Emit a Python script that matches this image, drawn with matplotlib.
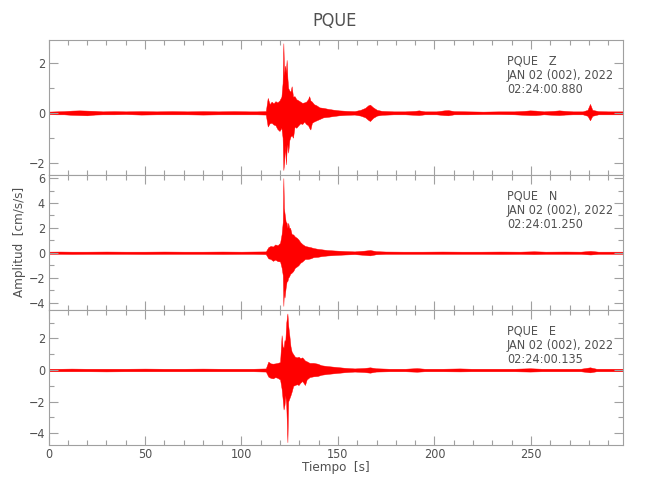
import matplotlib
matplotlib.use("Agg")
import matplotlib.pyplot as plt
from matplotlib.ticker import MultipleLocator

## envelope of each component (time [s], upper peak, lower peak)
t_z = [0, 4, 8, 12, 16, 20, 24, 28, 34, 40, 48, 56, 64, 72, 80, 88, 96, 104, 108, 112.6,
       113.6, 114.6, 115.6, 116.6, 117.6, 118.6, 119.7, 120.7, 121.3, 121.7, 122.1, 122.6,
       123.0, 123.4, 123.8, 124.2, 124.8, 125.4, 126.0, 126.7, 127.5, 128.4, 129.5, 130.5,
       131.5, 132.5, 133.5, 134.5, 135.1, 135.7, 136.5, 137.5, 138.9, 140.4, 142.4, 144.9, 147.4,
       150.5, 154.5, 158.6, 161.6, 164.1, 165.6, 166.6, 168.2, 170.2, 172.7, 178.8, 184.8, 189.9, 191.9, 194.9, 201.0,
       205.0, 207.1, 210.1, 217.2, 225.2, 233.3, 241.4, 246.5, 249.5, 252.5, 256.6, 261.6, 264.6, 267.7, 271.7, 276.8, 279.3,
       280.6, 281.8, 284.9, 289.9, 297.7]
hi_z = [0.05, 0.06, 0.07, 0.09, 0.1, 0.09, 0.08, 0.06, 0.07, 0.06, 0.07, 0.06, 0.07, 0.06,
        0.07, 0.06, 0.07, 0.06, 0.06, 0.07,
        0.60, 0.35, 0.45, 0.38, 0.47, 0.42, 0.50, 0.65, 1.2, 2.8, 1.5, 1.9,
        1.6, 2.13, 1.4, 1.0, 0.9, 0.85, 1.07, 0.65, 0.67, 0.55, 0.5, 0.45,
        0.4, 0.42, 0.45, 0.55, 0.67, 0.5, 0.45, 0.35, 0.3, 0.22, 0.2, 0.16, 0.13,
        0.1, 0.08, 0.07, 0.12, 0.2, 0.3, 0.33, 0.22, 0.12, 0.08, 0.06, 0.06, 0.08, 0.1, 0.06, 0.06,
        0.1, 0.11, 0.07, 0.06, 0.05, 0.06, 0.06, 0.08, 0.1, 0.09, 0.06, 0.08, 0.1, 0.08, 0.06, 0.06, 0.12,
        0.36, 0.12, 0.07, 0.06, 0.06]
lo_z = [-0.05, -0.06, -0.06, -0.08, -0.09, -0.1, -0.07, -0.06, -0.06, -0.05, -0.07, -0.06, -0.06, -0.06,
        -0.07, -0.06, -0.06, -0.06, -0.06, -0.07,
        -0.55, -0.42, -0.40, -0.47, -0.50, -0.65, -0.73, -0.60, -1.0, -2.3, -2.0, -1.3,
        -2.07, -1.5, -1.27, -1.6, -1.1, -0.95, -0.9, -1.0, -0.55, -0.6, -0.5, -0.42,
        -0.45, -0.35, -0.45, -0.5, -0.6, -0.67, -0.4, -0.35, -0.3, -0.25, -0.18, -0.16, -0.13,
        -0.1, -0.08, -0.07, -0.11, -0.18, -0.28, -0.33, -0.2, -0.11, -0.08, -0.06, -0.06, -0.08, -0.09, -0.06, -0.06,
        -0.09, -0.1, -0.06, -0.06, -0.05, -0.05, -0.06, -0.08, -0.09, -0.09, -0.06, -0.08, -0.09, -0.07, -0.06, -0.06, -0.12,
        -0.3, -0.12, -0.06, -0.06, -0.06]

t_n = [0, 6, 12, 20, 30, 40, 50, 60, 70, 80, 90, 100, 106.0, 112.6,
       113.9, 115.1, 116.3, 117.5, 118.7, 120.0, 120.8, 121.4, 121.7, 122.0, 122.3, 122.9,
       123.4, 123.8, 124.2, 124.7, 125.2, 126.0, 126.8, 127.7, 128.7, 129.5, 130.5, 131.5,
       132.9, 134.3, 135.8, 137.3, 139.4, 141.4, 144.4, 148.5, 153.5, 158.6, 163.6, 166.6, 169.7, 174.7, 183.8, 193.9,
       204.0, 214.1, 224.2, 234.3, 244.4, 251.5, 257.6, 267.7, 275.8, 280.8, 284.9, 291.9, 297.7]
hi_n = [0.09, 0.1, 0.09, 0.09, 0.1, 0.09, 0.09, 0.1, 0.09, 0.09, 0.1, 0.09, 0.1, 0.11,
        0.45, 0.55, 0.5, 0.67, 0.6, 0.8, 1.5, 2.5, 6.0, 3.6, 3.2, 2.5,
        2.4, 2.0, 2.4, 2.0, 2.0, 1.5, 1.47, 1.3, 1.2, 1.07, 0.85, 0.7,
        0.55, 0.5, 0.45, 0.38, 0.32, 0.28, 0.22, 0.18, 0.14, 0.11, 0.17, 0.22, 0.13, 0.1, 0.09, 0.09,
        0.1, 0.09, 0.09, 0.1, 0.09, 0.12, 0.09, 0.1, 0.09, 0.15, 0.09, 0.09, 0.09]
lo_n = [-0.09, -0.09, -0.1, -0.09, -0.09, -0.09, -0.1, -0.09, -0.09, -0.09, -0.1, -0.09, -0.09, -0.11,
        -0.45, -0.5, -0.65, -0.55, -0.67, -0.7, -1.2, -1.8, -4.27, -3.0, -3.6, -2.8,
        -2.3, -2.27, -2.0, -1.9, -1.7, -1.6, -1.47, -1.2, -1.1, -1.0, -0.8, -0.7,
        -0.5, -0.5, -0.45, -0.35, -0.33, -0.27, -0.22, -0.18, -0.14, -0.11, -0.17, -0.21, -0.12, -0.09, -0.09, -0.09,
        -0.09, -0.09, -0.09, -0.1, -0.09, -0.11, -0.09, -0.09, -0.09, -0.14, -0.09, -0.09, -0.09]

t_e = [0, 6, 12, 20, 30, 40, 50, 60, 70, 80, 90, 100, 106.0, 112.6,
       113.9, 115.1, 116.3, 117.5, 118.7, 120.0, 120.8, 121.3, 121.8, 122.3, 122.7, 123.2,
       123.8, 124.2, 124.8, 125.4, 126.0, 126.8, 127.7, 128.7, 129.6, 130.5, 131.5, 132.9,
       133.8, 135.3, 137.3, 139.4, 141.4, 144.4, 148.5, 153.5, 158.6, 163.6, 166.6, 169.7, 176.7, 184.8, 190.9, 194.9, 204.0,
       213.1, 219.2, 231.3, 241.4, 249.5, 255.6, 265.7, 275.8, 280.6, 283.9, 291.9, 297.7]
hi_e = [0.08, 0.08, 0.09, 0.08, 0.08, 0.08, 0.09, 0.08, 0.08, 0.09, 0.08, 0.08, 0.08, 0.1,
        0.53, 0.42, 0.4, 0.42, 0.45, 0.5, 2.2, 1.5, 1.4, 1.9, 1.8, 3.0,
        3.58, 2.84, 2.2, 1.5, 1.16, 1.0, 0.84, 0.8, 0.84, 0.75, 0.8, 0.6,
        0.55, 0.45, 0.45, 0.4, 0.3, 0.25, 0.2, 0.14, 0.1, 0.13, 0.17, 0.11, 0.08, 0.08, 0.12, 0.08, 0.08,
        0.1, 0.08, 0.08, 0.08, 0.11, 0.08, 0.08, 0.08, 0.17, 0.08, 0.08, 0.08]
lo_e = [-0.08, -0.08, -0.08, -0.08, -0.09, -0.08, -0.08, -0.08, -0.08, -0.08, -0.08, -0.08, -0.08, -0.1,
        -0.42, -0.5, -0.53, -0.45, -0.5, -0.6, -1.2, -1.8, -2.5, -2.2, -1.6, -2.2,
        -4.57, -2.0, -1.8, -1.6, -1.37, -1.0, -0.95, -0.9, -0.95, -0.8, -0.7, -0.95,
        -0.6, -0.45, -0.4, -0.38, -0.3, -0.25, -0.2, -0.14, -0.1, -0.13, -0.17, -0.1, -0.08, -0.08, -0.11, -0.08, -0.08,
        -0.09, -0.08, -0.08, -0.08, -0.1, -0.08, -0.08, -0.08, -0.15, -0.08, -0.08, -0.08]

components = ["Z", "N", "E"]
start_times = ["02:24:00.880", "02:24:01.250", "02:24:00.135"]
date_label = "JAN 02 (002), 2022"
station = "PQUE"
ylims = [(-2.5, 2.93), (-4.6, 6.25), (-4.75, 3.8)]
traces = [(t_z, hi_z, lo_z), (t_n, hi_n, lo_n), (t_e, hi_e, lo_e)]

plt.rcParams["font.family"] = ["DejaVu Sans"]
plt.rcParams["font.stretch"] = "condensed"

txt = "#505050"
edge = "#a0a0a0"

fig = plt.figure(figsize=(6.5, 5), dpi=100)
left, width = 48.5 / 650, 574.5 / 650
panel_h = 135 / 500
tops = [40, 175, 310]

for i, (t, hi, lo) in enumerate(traces):
    ax = fig.add_axes([left, 1 - (tops[i] + 135) / 500, width, panel_h])
    ax.fill_between(t, lo, hi, color="red", lw=0.3, edgecolor="red")
    ax.set_xlim(0, 297.7)
    ax.set_ylim(*ylims[i])
    ax.xaxis.set_major_locator(MultipleLocator(50))
    ax.xaxis.set_minor_locator(MultipleLocator(10))
    ax.yaxis.set_major_locator(MultipleLocator(2))
    ax.yaxis.set_minor_locator(MultipleLocator(1))
    ax.tick_params(which="both", direction="in", top=True, right=True,
                   color=edge, labelcolor=txt, labelsize=9, width=0.8, pad=2.5)
    ax.tick_params(which="major", length=6.5)
    ax.tick_params(which="minor", length=3.3)
    for s in ax.spines.values():
        s.set_color(edge)
        s.set_linewidth(0.8)
    if i < 2:
        ax.tick_params(labelbottom=False)
    for j, line in enumerate([f"{station}   {components[i]}", date_label, start_times[i]]):
        ax.text(0.798, 1 - (21 + 14.3 * j) / 135, line, transform=ax.transAxes,
                va="center", ha="left", fontsize=9, color=txt)

fig.text(0.515, 1 - 21 / 500, station, ha="center", va="center", fontsize=13, color=txt)
fig.text(20 / 650, 1 - 242 / 500, "Amplitud  [cm/s/s]", rotation=90,
         ha="center", va="center", fontsize=9.5, color=txt)
fig.text(336 / 650, 1 - 468 / 500, "Tiempo  [s]", ha="center", va="center",
         fontsize=9.5, color=txt)

fig.savefig("out.png", dpi=100)
